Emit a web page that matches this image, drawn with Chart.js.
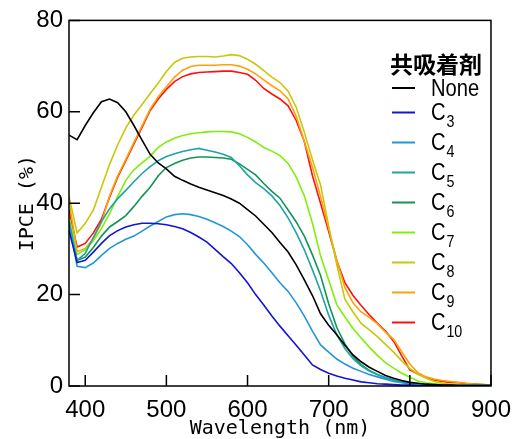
<!DOCTYPE html>
<html>
<head>
<meta charset="utf-8">
<script src="https://cdn.jsdelivr.net/npm/chart.js@4/dist/chart.umd.min.js"></script>
<style>
  html, body { margin: 0; padding: 0; background: #fff; }
</style>
</head>
<body>
<canvas id="chart" width="521" height="439"></canvas>
<script>
// wavelength (nm)
var wavelength = [380,390,400,410,420,430,440,450,460,470,480,490,500,510,520,530,540,550,560,570,
  580,590,600,610,620,630,640,650,660,670,680,690,700,710,720,730,740,750,760,770,
  780,790,800,810,820,830,840,850,860,870,880,890,900];

// IPCE (%) per co-adsorbent
var ipceNone = [54.9,53.9,57.0,59.8,62.2,62.8,62.0,60.0,57.0,53.8,50.7,48.8,47.5,45.9,45.0,44.2,43.5,42.9,42.3,41.7,
  40.9,40.0,38.6,37.2,35.4,33.6,31.4,29.3,26.5,23.2,19.8,15.8,13.3,11.2,8.9,6.8,5.3,4.1,3.2,2.3,
  1.7,1.2,0.8,0.6,0.4,0.3,0.2,0.2,0.1,0.1,0.1,0.1,0.1];
var ipceC3 = [34.0,27.0,27.5,29.3,31.2,32.9,34.0,34.8,35.3,35.6,35.6,35.5,35.3,34.9,34.4,33.6,32.6,31.5,29.9,28.3,
  26.8,24.8,22.6,20.0,17.7,15.3,13.1,11.0,8.9,6.8,4.6,3.6,2.8,2.2,1.7,1.3,0.9,0.7,0.5,0.4,
  0.3,0.2,0.2,0.1,0.1,0.1,0.1,0.1,0.1,0.1,0.1,0.1,0.1];
var ipceC4 = [36.0,26.2,25.9,26.9,28.6,30.1,31.2,32.1,32.8,33.9,35.0,36.0,37.0,37.5,37.7,37.5,37.1,36.5,35.7,34.9,
  33.9,32.7,30.9,28.8,26.9,24.8,22.6,20.7,18.2,15.3,12.0,9.0,7.4,5.9,4.8,3.9,3.2,2.5,2.0,1.5,
  1.0,0.7,0.4,0.3,0.2,0.1,0.1,0.1,0.1,0.1,0.1,0.1,0.1];
var ipceC5 = [36.0,27.5,29.0,32.5,36.0,38.8,41.0,42.8,44.7,46.5,48.0,49.3,50.2,50.8,51.3,51.7,52.0,51.6,51.2,50.7,
  50.0,48.2,46.2,44.5,43.2,41.6,39.5,36.8,33.5,29.8,25.4,20.8,15.5,11.2,8.2,6.0,4.4,3.3,2.5,1.8,
  1.3,0.9,0.6,0.4,0.3,0.2,0.1,0.1,0.1,0.1,0.1,0.1,0.1];
var ipceC6 = [35.0,27.5,28.2,30.3,32.8,34.8,36.0,37.3,39.3,41.5,43.5,46.0,47.8,48.7,49.4,49.9,50.1,50.1,50.0,49.9,
  49.6,48.6,47.4,46.2,44.3,42.6,41.1,38.5,35.9,32.8,28.7,24.2,18.0,12.8,9.2,6.5,4.7,3.4,2.5,1.8,
  1.3,0.9,0.6,0.4,0.3,0.2,0.1,0.1,0.1,0.1,0.1,0.1,0.1];
var ipceC7 = [37.0,28.8,29.8,31.8,34.5,37.7,41.5,45.0,47.3,48.8,50.3,52.2,53.4,54.2,54.8,55.2,55.4,55.6,55.7,55.7,
  55.6,55.2,54.4,53.4,52.2,51.4,50.4,48.7,45.7,41.6,35.6,28.5,23.2,17.8,15.1,12.6,10.5,8.5,6.7,5.1,
  3.9,2.8,1.9,1.1,0.7,0.5,0.3,0.2,0.1,0.1,0.1,0.1,0.1];
var ipceC8 = [41.5,33.5,35.6,38.5,43.5,48.5,52.8,56.5,59.3,61.6,64.0,66.3,68.8,70.8,71.7,72.0,72.1,72.1,72.0,72.2,
  72.5,72.3,71.5,70.4,69.0,67.6,66.4,64.5,61.0,55.5,49.5,44.0,35.0,26.5,19.0,16.2,13.7,12.3,10.8,9.1,
  7.4,5.5,3.8,2.6,1.7,1.0,0.6,0.4,0.3,0.2,0.1,0.1,0.1];
var ipceC9 = [40.5,29.4,30.1,32.2,35.8,41.6,46.0,49.6,53.3,56.9,60.6,63.3,65.5,67.6,69.1,69.9,70.2,70.2,70.2,70.3,
  70.3,70.0,69.3,68.3,67.0,65.7,64.6,62.8,59.0,53.5,47.9,41.5,34.5,27.5,21.5,18.2,16.2,15.0,13.6,11.8,
  10.2,7.5,4.8,2.9,2.0,1.5,1.2,1.0,0.8,0.6,0.4,0.3,0.2];
var ipceC10 = [38.5,30.4,31.2,33.5,36.5,41.3,45.7,49.3,53.0,56.6,60.3,62.8,64.9,66.6,67.7,68.3,68.6,68.7,68.8,68.9,
  68.9,68.6,68.2,66.9,65.1,63.9,62.8,61.3,58.1,53.5,46.0,40.0,33.8,27.4,22.6,19.8,17.6,15.6,13.7,12.0,
  9.8,6.6,3.5,2.6,1.8,1.3,1.0,0.8,0.7,0.5,0.4,0.3,0.2];

var seriesNames = ['None','C3','C4','C5','C6','C7','C8','C9','C10'];
var seriesColors = ['#000000','#1414d2','#2196d8','#1fa3a3','#139455','#7ff00a','#c8c80a','#ffa00a','#ff1010'];
var seriesValues = [ipceNone, ipceC3, ipceC4, ipceC5, ipceC6, ipceC7, ipceC8, ipceC9, ipceC10];

var xTicks = [400, 500, 600, 700, 800, 900];
var yTicks = [0, 20, 40, 60, 80];
var legendTitle = '共吸着剤';

var numFont = "'Liberation Sans Narrow', 'Liberation Sans', sans-serif";
var monoFont = "'DejaVu Sans Mono', monospace";

// frame, inward ticks and the legend
var framePlugin = {
  id: 'frame',
  afterDatasetsDraw: function(chart) {
    var ctx = chart.ctx, a = chart.chartArea;
    var sx = chart.scales.x, sy = chart.scales.y;
    ctx.save();
    ctx.strokeStyle = '#000';
    ctx.lineWidth = 1.5;
    ctx.strokeRect(a.left, a.top, a.right - a.left, a.bottom - a.top);
    ctx.beginPath();
    xTicks.forEach(function(v) {
      var px = sx.getPixelForValue(v);
      ctx.moveTo(px, a.bottom);
      ctx.lineTo(px, a.bottom - 11);
    });
    yTicks.forEach(function(v) {
      var py = sy.getPixelForValue(v);
      ctx.moveTo(a.left, py);
      ctx.lineTo(a.left + 11, py);
    });
    ctx.stroke();

    // legend
    ctx.fillStyle = '#000';
    ctx.textBaseline = 'middle';
    ctx.textAlign = 'left';
    ctx.font = "bold 23px 'Noto Sans CJK JP'";
    ctx.fillText(legendTitle, 390, 64);
    var y = 88;
    seriesNames.forEach(function(name, i) {
      if (i == 1) y += 24.5;
      else if (i > 1) y += 30;
      ctx.strokeStyle = seriesColors[i];
      ctx.lineWidth = 2;
      ctx.beginPath();
      ctx.moveTo(392, y);
      ctx.lineTo(415, y);
      ctx.stroke();
      // squeeze the text a bit, the original font is a narrow one
      ctx.save();
      ctx.translate(431, 0);
      ctx.scale(0.84, 1);
      ctx.font = '24px ' + numFont;
      if (name == 'None') {
        ctx.fillText(name, 0, y + 1);
      } else {
        ctx.fillText('C', 0, y + 1);
        var w = ctx.measureText('C').width;
        ctx.font = '17px ' + numFont;
        ctx.fillText(name.substring(1), w + 1, y + 10);
      }
      ctx.restore();
    });
    ctx.restore();
  }
};

var datasets = seriesNames.map(function(name, i) {
  return {
    label: name,
    data: seriesValues[i].map(function(v, j) { return { x: wavelength[j], y: v }; }),
    borderColor: seriesColors[i],
    borderWidth: 1.6,
    pointRadius: 0,
    tension: 0,
    fill: false
  };
});

new Chart(document.getElementById('chart'), {
  type: 'line',
  data: { datasets: datasets },
  plugins: [framePlugin],
  options: {
    responsive: false,
    animation: false,
    devicePixelRatio: 1,
    layout: { padding: { top: 20, right: 23, left: 0, bottom: 0 } },
    plugins: { legend: { display: false }, tooltip: { enabled: false } },
    scales: {
      x: {
        type: 'linear',
        min: 380,
        max: 900,
        afterBuildTicks: function(scale) {
          scale.ticks = xTicks.map(function(v) { return { value: v }; });
        },
        afterFit: function(scale) { scale.height = 53; },
        grid: { display: false, drawTicks: false },
        border: { display: false },
        ticks: { color: '#000', padding: 10, maxRotation: 0, font: { family: numFont, size: 24 } },
        title: {
          display: true,
          text: 'Wavelength (nm)',
          color: '#000',
          padding: { top: 0, bottom: 0 },
          font: { family: monoFont, size: 20, lineHeight: 1 }
        }
      },
      y: {
        min: 0,
        max: 80,
        afterBuildTicks: function(scale) {
          scale.ticks = yTicks.map(function(v) { return { value: v }; });
        },
        afterFit: function(scale) { scale.width = 69; },
        grid: { display: false, drawTicks: false },
        border: { display: false },
        ticks: { color: '#000', padding: 6, font: { family: numFont, size: 24 } },
        title: {
          display: true,
          text: 'IPCE (%)',
          color: '#000',
          padding: { top: 18, bottom: 0 },
          font: { family: monoFont, size: 20, lineHeight: 1 }
        }
      }
    }
  }
});
</script>
</body>
</html>
